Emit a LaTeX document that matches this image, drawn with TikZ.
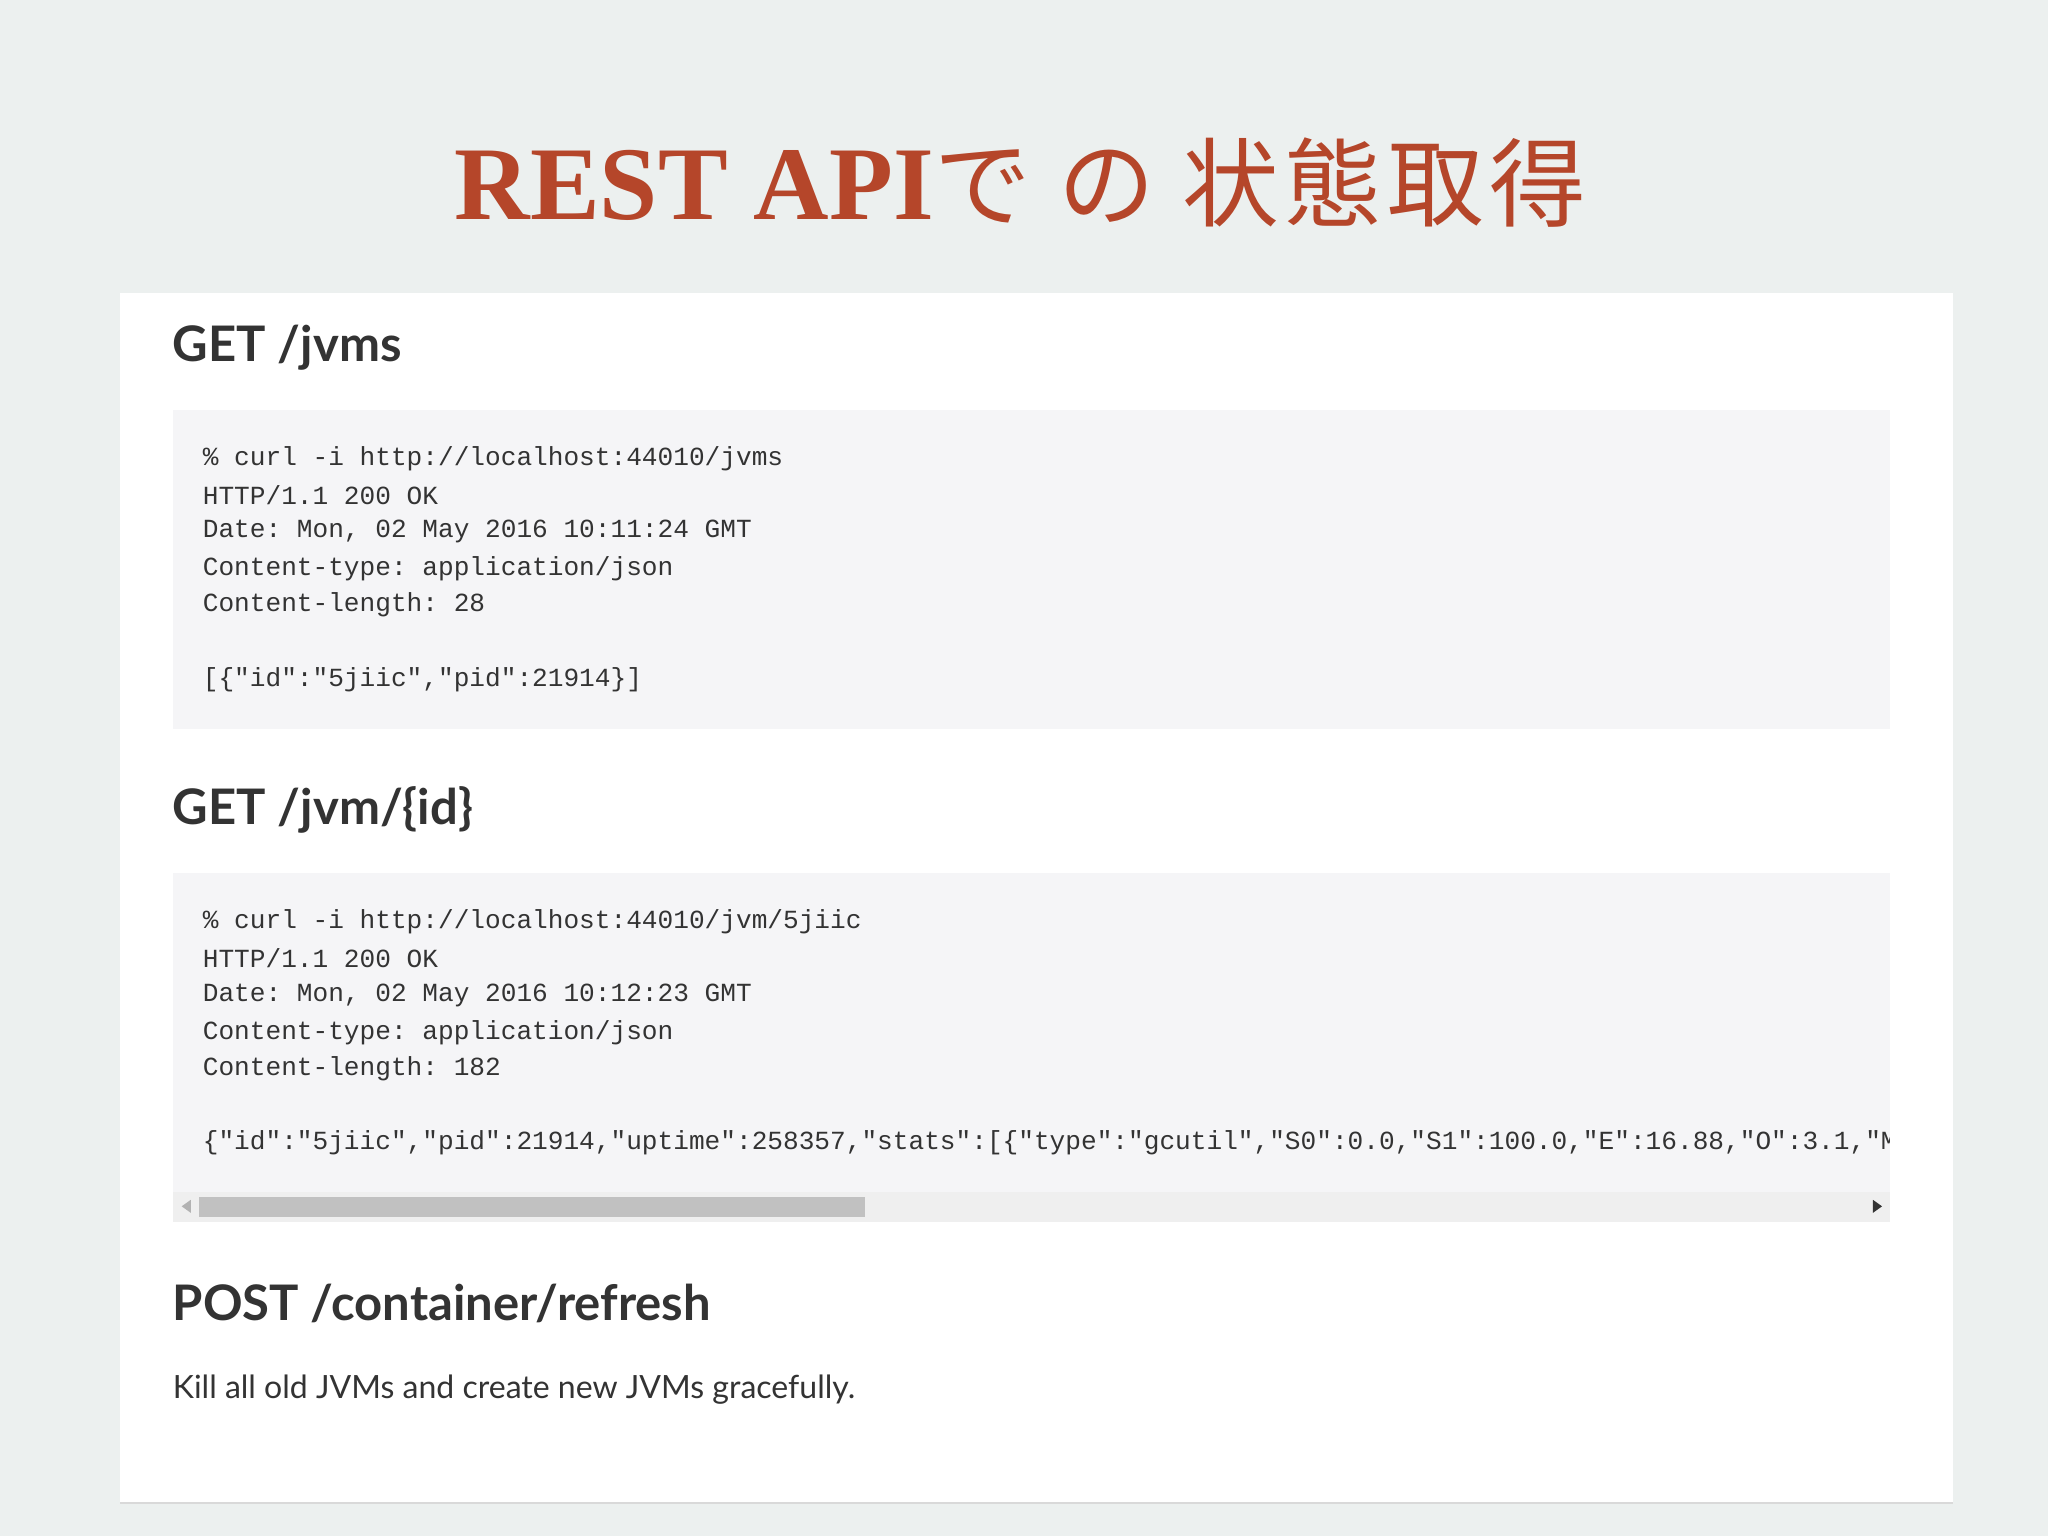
\documentclass[tikz,border=0pt]{standalone}
\usepackage{fontspec}
\setmainfont{Lato}
\setmonofont{Liberation Mono}
\newfontfamily\titlelat{Liberation Serif}
\newfontfamily\titlecjk{Noto Sans CJK JP}
\definecolor{bgc}{HTML}{ECF0EF}
\definecolor{rust}{HTML}{B5462A}
\definecolor{codebg}{HTML}{F5F5F7}
\definecolor{ink}{HTML}{333333}
\definecolor{track}{HTML}{EFEFEF}
\definecolor{thumb}{HTML}{C1C1C1}
\tikzset{
  head/.style={anchor=west, inner sep=0pt, text=ink, font=\fontsize{37.5}{40}\selectfont\bfseries},
  code/.style={anchor=west, inner sep=0pt, text=ink, font=\fontsize{20}{24}\selectfont\ttfamily},
  box/.style={fill=codebg, draw=none}
}
\begin{document}
\begin{tikzpicture}[x=1pt,y=-1pt]
\fill[bgc] (0,0) rectangle (1567,1175);
\useasboundingbox (0,0) rectangle (1567,1175);
\node[inner sep=0pt, text=rust] (title) at (781,140) {{\titlelat\fontsize{80}{90}\selectfont\bfseries REST API}{\titlecjk\fontsize{74}{90}\selectfont\addfontfeature{LetterSpace=6}で の 状態取得}};
\fill[white] (92,224) rectangle (1494,1150);
\draw[color=gray!30, line width=1pt] (92,1150) -- (1494,1150);
\node[head] (h1) at (132,266) {GET /jvms};
\fill[box] (132,314) rectangle (1446,558);
\node[code] (c1) at (155,351) {\% curl -i http://localhost:44010/jvms};
\node[code] (c2) at (155,379) {HTTP/1.1 200 OK};
\node[code] (c3) at (155,407) {Date: Mon, 02 May 2016 10:11:24 GMT};
\node[code] (c4) at (155,435) {Content-type: application/json};
\node[code] (c5) at (155,463) {Content-length: 28};
\node[code] (c6) at (155,520) {[\{"id":"5jiic","pid":21914\}]};
\node[head] (h2) at (132,620) {GET /jvm/\{id\}};
\fill[box] (132,668) rectangle (1446,935);
\node[code] (d1) at (155,705) {\% curl -i http://localhost:44010/jvm/5jiic};
\node[code] (d2) at (155,733) {HTTP/1.1 200 OK};
\node[code] (d3) at (155,762) {Date: Mon, 02 May 2016 10:12:23 GMT};
\node[code] (d4) at (155,790) {Content-type: application/json};
\node[code] (d5) at (155,818) {Content-length: 182};
\begin{scope}
\clip (132,850) rectangle (1446,900);
\node[code] (d6) at (155,874) {\{"id":"5jiic","pid":21914,"uptime":258357,"stats":[\{"type":"gcutil","S0":0.0,"S1":100.0,"E":16.88,"O":3.1,"M":97.5\}]\}};
\end{scope}
\fill[track] (132,912) rectangle (1446,935);
\fill[thumb] (152,916) rectangle (662,931);
\fill[gray!60] (139,923) -- (146,918) -- (146,928) -- cycle;
\fill[black!80] (1440,923) -- (1433,918) -- (1433,928) -- cycle;
\node[head] (h3) at (132,997) {POST /container/refresh};
\node[anchor=west, inner sep=0pt, text=ink, font=\fontsize{24.5}{28}\selectfont] (p) at (132,1063) {Kill all old JVMs and create new JVMs gracefully.};
\end{tikzpicture}
\end{document}
